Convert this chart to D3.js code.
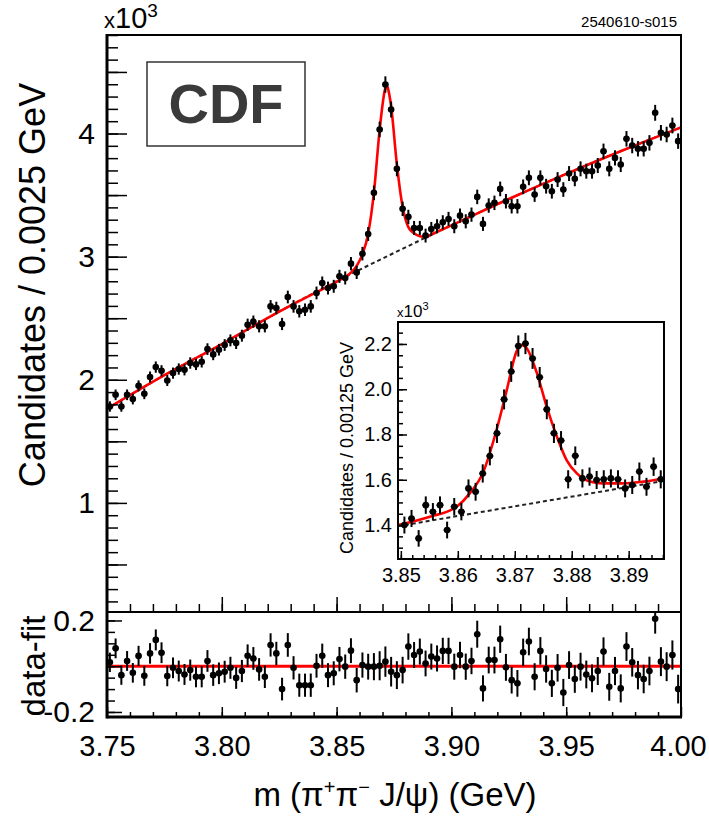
<!DOCTYPE html>
<html><head><meta charset="utf-8">
<script src="https://cdn.jsdelivr.net/npm/d3@7"></script>
<style>
body{margin:0;background:#fff}
svg{display:block}
text{font-family:"Liberation Sans",Arial,Helvetica,sans-serif}
</style>
</head><body>
<svg id="c" width="709" height="816"></svg>
<script>
// ---------------- DATA ----------------
// main histogram: 100 bins of 0.0025 GeV from 3.75 to 4.00, counts in units of 10^3
const mainStart = 3.75, mainBin = 0.0025;
const mainCounts = [
 1.783,1.878,1.783,1.878,1.843,1.951,1.886,2.022,2.103,2.073,
 1.994,2.054,2.087,2.081,2.136,2.125,2.146,2.249,2.206,2.244,
 2.282,2.320,2.298,2.358,2.447,2.472,2.434,2.434,2.596,2.583,
 2.453,2.672,2.596,2.556,2.569,2.596,2.705,2.786,2.745,2.759,
 2.840,2.827,2.943,2.872,3.024,3.184,3.518,4.033,4.398,4.195,
 3.713,3.388,3.323,3.233,3.233,3.171,3.225,3.247,3.279,3.306,
 3.247,3.333,3.287,3.341,3.485,3.266,3.415,3.437,3.550,3.450,
 3.409,3.409,3.567,3.640,3.504,3.640,3.572,3.531,3.626,3.545,
 3.675,3.632,3.713,3.694,3.694,3.740,3.856,3.713,3.802,3.748,
 3.957,3.902,3.876,3.876,3.924,4.168,4.006,3.992,4.065,3.938
];
// residuals data-fit (units of 10^3)
const residuals = [
 0.017,0.078,-0.039,0.023,-0.029,0.045,-0.042,0.056,0.115,0.059,
 -0.043,-0.007,-0.021,-0.036,-0.017,-0.046,-0.046,0.023,-0.039,-0.031,
 -0.024,-0.007,-0.051,-0.021,0.046,0.034,-0.014,-0.046,0.093,0.056,
 -0.100,0.093,-0.007,-0.083,-0.083,-0.083,0.002,0.046,-0.039,-0.031,
 0.031,-0.002,0.068,-0.061,0.005,-0.002,-0.002,0.002,0.020,-0.024,
 -0.039,-0.017,0.086,0.049,0.064,0.012,0.042,0.034,0.067,0.067,
 -0.002,0.049,-0.002,0.023,0.140,-0.097,0.027,0.027,0.118,-0.005,
 -0.061,-0.075,0.061,0.108,-0.046,0.067,-0.012,-0.075,-0.007,-0.115,
 0.005,-0.056,-0.002,-0.036,-0.053,-0.021,0.064,-0.090,-0.021,-0.097,
 0.086,0.017,-0.039,-0.056,-0.021,0.207,0.020,-0.002,0.049,-0.100
];
// fit curve (signal + background)
const fitMainX = [3.75,3.775,3.80,3.825,3.84,3.8475,3.85125,3.85375,3.85625,3.85875,3.86125,3.86375,3.86625,3.86875,3.87125,3.8719,3.8727,3.87375,3.87625,3.87875,3.88125,3.88375,3.88625,3.88875,3.89125,3.90,3.925,3.95,3.975,4.00];
const fitMainY = [1.764,2.037,2.29,2.554,2.70,2.77,2.809,2.835,2.87,2.925,3.02,3.186,3.52,4.03,4.37,4.39,4.34,4.22,3.75,3.405,3.24,3.19,3.165,3.159,3.18,3.254,3.468,3.672,3.866,4.05];
// background only (dashed)
const bgMainX = [3.75,3.775,3.80,3.825,3.85,3.875,3.90,3.925,3.95,3.975,4.00];
const bgMainY = [1.764,2.037,2.29,2.554,2.80,3.03,3.254,3.468,3.672,3.866,4.05];

// inset: 37 bins of 0.00125 GeV from 3.85
const insetStart = 3.85, insetBin = 0.00125;
const insetCounts = [
 1.400,1.429,1.341,1.488,1.459,1.488,1.378,1.481,1.459,1.562,
 1.547,1.628,1.705,1.805,1.955,2.078,2.191,2.202,2.136,2.053,
 1.911,1.805,1.773,1.602,1.706,1.606,1.614,1.599,1.602,1.606,
 1.602,1.562,1.577,1.636,1.569,1.658,1.602
];
const fitInX = [3.8495,3.8551,3.8598,3.8621,3.8645,3.8668,3.8686,3.8703,3.8712,3.8721,3.8739,3.8756,3.8774,3.8791,3.8809,3.8832,3.8855,3.8891,3.8926,3.8962];
const fitInY = [1.400,1.437,1.481,1.540,1.636,1.820,1.997,2.166,2.196,2.181,2.070,1.923,1.790,1.687,1.628,1.592,1.584,1.584,1.592,1.606];
const bgInX = [3.8495,3.8962];
const bgInY = [1.395,1.595];

// tick labels
const mainYLabels = [1,2,3,4];
const resXLabels = [3.75,3.80,3.85,3.90,3.95,4.00];
const resYLabels = [-0.2,0.2];
const inYLabels = [1.4,1.6,1.8,2.0,2.2];
const inXLabels = [3.85,3.86,3.87,3.88,3.89];

// ---------------- DRAWING ----------------
const FONT = '"Liberation Sans", Arial, Helvetica, sans-serif';
const svg = d3.select("#c");
const L = 107, R = 681, T = 35, MID = 612, B = 717;
const IL = 398, IR = 664, IT = 322, IB = 559;

const x = d3.scaleLinear().domain([3.75, 4.00]).range([L, R]);
const yTop = d3.scaleLinear().domain([0.114, 4.8]).range([MID, T]);
const yRes = d3.scaleLinear().domain([-0.222, 0.237]).range([B, MID]);
const xIn = d3.scaleLinear().domain([3.8495, 3.8962]).range([IL, IR]);
const yIn = d3.scaleLinear().domain([1.25, 2.297]).range([IB, IT]);

const defs = svg.append("defs");
function clip(id, x0, y0, w, h) {
  defs.append("clipPath").attr("id", id).append("rect")
    .attr("x", x0).attr("y", y0).attr("width", w).attr("height", h);
}
clip("cTop", L, T, R - L, MID - T);
clip("cRes", L, MID, R - L, B - MID);
clip("cIn", IL, IT, IR - IL, IB - IT);

const mainX = mainCounts.map((v, i) => mainStart + (i + 0.5) * mainBin);
const mainErr = mainCounts.map(v => Math.sqrt(v * 1000) / 1000);
const inX = insetCounts.map((v, i) => insetStart + (i + 0.5) * insetBin);
const inErr = insetCounts.map(v => Math.sqrt(v * 1000) / 1000);

function styleAxis(g, fs) {
  g.select(".domain").remove();
  g.selectAll(".tick line").attr("stroke", "#000").attr("stroke-width", 1.5);
  g.attr("font-family", FONT).attr("font-size", fs);
  g.selectAll(".tick text").attr("fill", "#000");
}

function drawPoints(g, xs, vals, errs, xs_, ys_, halfw) {
  const data = vals.map((v, i) => ({ x: xs[i], v: v, e: errs[i] }));
  const p = g.selectAll("g.pt").data(data).join("g").attr("class", "pt");
  p.append("line")
    .attr("x1", d => xs_(d.x)).attr("x2", d => xs_(d.x))
    .attr("y1", d => ys_(d.v - d.e)).attr("y2", d => ys_(d.v + d.e))
    .attr("stroke", "#000").attr("stroke-width", 2);
  p.append("line")
    .attr("x1", d => xs_(d.x) - halfw).attr("x2", d => xs_(d.x) + halfw)
    .attr("y1", d => ys_(d.v)).attr("y2", d => ys_(d.v))
    .attr("stroke", "#000").attr("stroke-width", 1.5);
  p.append("circle")
    .attr("cx", d => xs_(d.x)).attr("cy", d => ys_(d.v)).attr("r", 3.3)
    .attr("fill", "#000");
}

// ---- top panel ----
const gTop = svg.append("g").attr("clip-path", "url(#cTop)");
const bgLine = d3.line().x((d, i) => x(bgMainX[i])).y(d => yTop(d)).curve(d3.curveMonotoneX);
gTop.append("path").attr("d", bgLine(bgMainY)).attr("fill", "none")
  .attr("stroke", "#222").attr("stroke-width", 2).attr("stroke-dasharray", "4,3");
const fitLine = d3.line().x((d, i) => x(fitMainX[i])).y(d => yTop(d)).curve(d3.curveMonotoneX);
gTop.append("path").attr("d", fitLine(fitMainY)).attr("fill", "none")
  .attr("stroke", "#ff0000").attr("stroke-width", 2.6);
drawPoints(gTop, mainX, mainCounts, mainErr, x, yTop, (x(3.75 + mainBin) - x(3.75)) / 2);

// y axis top panel
const gyMin = svg.append("g").attr("transform", `translate(${L},0)`)
  .call(d3.axisLeft(yTop).tickValues(d3.range(2, 49).map(i => i / 10)).tickSize(-11).tickFormat(""));
styleAxis(gyMin, 30);
const gyMaj = svg.append("g").attr("transform", `translate(${L},0)`)
  .call(d3.axisLeft(yTop).tickValues(d3.range(1, 10).map(i => i / 2)).tickSize(-20).tickPadding(12)
    .tickFormat(d => mainYLabels.includes(d) ? String(d) : ""));
styleAxis(gyMaj, 30);

// x ticks on bottom of top panel (pointing up)
const gxTopMin = svg.append("g").attr("transform", `translate(0,${MID})`)
  .call(d3.axisBottom(x).tickValues(d3.range(376, 400).map(i => i / 100)).tickSize(-8).tickFormat(""));
styleAxis(gxTopMin, 10);
const gxTopMaj = svg.append("g").attr("transform", `translate(0,${MID})`)
  .call(d3.axisBottom(x).tickValues([3.80, 3.85, 3.90, 3.95]).tickSize(-15).tickFormat(""));
styleAxis(gxTopMaj, 10);

// ---- residual panel ----
const gRes = svg.append("g").attr("clip-path", "url(#cRes)");
gRes.append("line").attr("x1", L).attr("x2", R).attr("y1", yRes(0)).attr("y2", yRes(0))
  .attr("stroke", "#ff0000").attr("stroke-width", 3);
drawPoints(gRes, mainX, residuals, mainErr, x, yRes, (x(3.75 + mainBin) - x(3.75)) / 2);

const gryMin = svg.append("g").attr("transform", `translate(${L},0)`)
  .call(d3.axisLeft(yRes).tickValues(d3.range(-4, 5).map(i => i * 0.05)).tickSize(-8).tickFormat(""));
styleAxis(gryMin, 30);
const gryMaj = svg.append("g").attr("transform", `translate(${L},0)`)
  .call(d3.axisLeft(yRes).tickValues([-0.2, 0, 0.2]).tickSize(-15).tickPadding(12)
    .tickFormat(d => resYLabels.includes(d) ? (d < 0 ? "-" : "") + Math.abs(d).toFixed(1) : ""));
styleAxis(gryMaj, 30);

const grxMin = svg.append("g").attr("transform", `translate(0,${B})`)
  .call(d3.axisBottom(x).tickValues(d3.range(376, 400).map(i => i / 100)).tickSize(-5).tickFormat(""));
styleAxis(grxMin, 29);
const grxMaj = svg.append("g").attr("transform", `translate(0,${B})`)
  .call(d3.axisBottom(x).tickValues(resXLabels).tickSize(-10).tickPadding(18).tickFormat(d => d.toFixed(2)));
styleAxis(grxMaj, 29);
grxMaj.selectAll(".tick text").filter(d => d === 4.00).attr("dx", -3);

// frames
svg.append("rect").attr("x", L).attr("y", T).attr("width", R - L).attr("height", MID - T)
  .attr("fill", "none").attr("stroke", "#000").attr("stroke-width", 2);
svg.append("rect").attr("x", L).attr("y", MID).attr("width", R - L).attr("height", B - MID)
  .attr("fill", "none").attr("stroke", "#000").attr("stroke-width", 2);
svg.append("line").attr("x1", L).attr("x2", L).attr("y1", T - 1).attr("y2", B + 1.5)
  .attr("stroke", "#000").attr("stroke-width", 3);
svg.append("line").attr("x1", L).attr("x2", R + 1).attr("y1", B).attr("y2", B)
  .attr("stroke", "#000").attr("stroke-width", 3);

// ---- inset ----
svg.append("rect").attr("x", IL).attr("y", IT).attr("width", IR - IL).attr("height", IB - IT)
  .attr("fill", "#fff");
const gIn = svg.append("g").attr("clip-path", "url(#cIn)");
const bgInLine = d3.line().x((d, i) => xIn(bgInX[i])).y(d => yIn(d));
gIn.append("path").attr("d", bgInLine(bgInY)).attr("fill", "none")
  .attr("stroke", "#222").attr("stroke-width", 2).attr("stroke-dasharray", "4,3");
const fitInLine = d3.line().x((d, i) => xIn(fitInX[i])).y(d => yIn(d)).curve(d3.curveMonotoneX);
gIn.append("path").attr("d", fitInLine(fitInY)).attr("fill", "none")
  .attr("stroke", "#ff0000").attr("stroke-width", 2.6);
drawPoints(gIn, inX, insetCounts, inErr, xIn, yIn, (xIn(3.85 + insetBin) - xIn(3.85)) / 2);

const giyMin = svg.append("g").attr("transform", `translate(${IL},0)`)
  .call(d3.axisLeft(yIn).tickValues(d3.range(26, 46).map(i => i * 0.05)).tickSize(-5).tickFormat(""));
styleAxis(giyMin, 20);
const giyMaj = svg.append("g").attr("transform", `translate(${IL},0)`)
  .call(d3.axisLeft(yIn).tickValues(inYLabels).tickSize(-9).tickPadding(6).tickFormat(d => d.toFixed(1)));
styleAxis(giyMaj, 20);
const gixMin = svg.append("g").attr("transform", `translate(0,${IB})`)
  .call(d3.axisBottom(xIn).tickValues(d3.range(1925, 1949).map(i => i * 0.002)).tickSize(-4).tickFormat(""));
styleAxis(gixMin, 20);
const gixMaj = svg.append("g").attr("transform", `translate(0,${IB})`)
  .call(d3.axisBottom(xIn).tickValues(inXLabels).tickSize(-8).tickPadding(9).tickFormat(d => d.toFixed(2)));
styleAxis(gixMaj, 20);
svg.append("rect").attr("x", IL).attr("y", IT).attr("width", IR - IL).attr("height", IB - IT)
  .attr("fill", "none").attr("stroke", "#000").attr("stroke-width", 2);

// ---- texts ----
function expLabel(x0, y0, fsBig, fsSmall, fsSup, dySup) {
  const t = svg.append("text").attr("x", x0).attr("y", y0).attr("fill", "#000");
  t.append("tspan").attr("font-size", fsSmall).text("x");
  t.append("tspan").attr("font-size", fsBig).text("10");
  t.append("tspan").attr("font-size", fsSup).attr("dy", dySup).text("3");
}
expLabel(104, 28, 29, 22, 19, -11);
expLabel(397, 317, 17, 13, 11, -7);

svg.append("text").attr("x", 677).attr("y", 27).attr("text-anchor", "end")
  .attr("font-size", 15).attr("fill", "#000").text("2540610-s015");

// CDF box
svg.append("rect").attr("x", 147).attr("y", 62).attr("width", 158).attr("height", 84)
  .attr("fill", "#fff").attr("stroke", "#333").attr("stroke-width", 1.5);
svg.append("text").attr("x", 226).attr("y", 123).attr("text-anchor", "middle")
  .attr("font-size", 56).attr("font-weight", "bold").attr("fill", "#3a3a3a").text("CDF");

// axis titles
svg.append("text").attr("transform", "translate(45,285) rotate(-90)").attr("text-anchor", "middle")
  .attr("font-size", 36).attr("fill", "#000").text("Candidates / 0.0025 GeV");
svg.append("text").attr("transform", "translate(45,666) rotate(-90)").attr("text-anchor", "middle")
  .attr("font-size", 33).attr("fill", "#000").text("data-fit");
svg.append("text").attr("transform", "translate(353,448) rotate(-90)").attr("text-anchor", "middle")
  .attr("font-size", 18).attr("fill", "#000").text("Candidates / 0.00125 GeV");

const xt = svg.append("text").attr("x", 395).attr("y", 806).attr("text-anchor", "middle")
  .attr("font-size", 33).attr("fill", "#000");
xt.append("tspan").text("m (π");
xt.append("tspan").attr("font-size", 20).attr("dy", -12).text("+");
xt.append("tspan").attr("dy", 12).text("π");
xt.append("tspan").attr("font-size", 20).attr("dy", -12).text("−");
xt.append("tspan").attr("dy", 12).text(" J/ψ) (GeV)");
</script>
</body></html>
